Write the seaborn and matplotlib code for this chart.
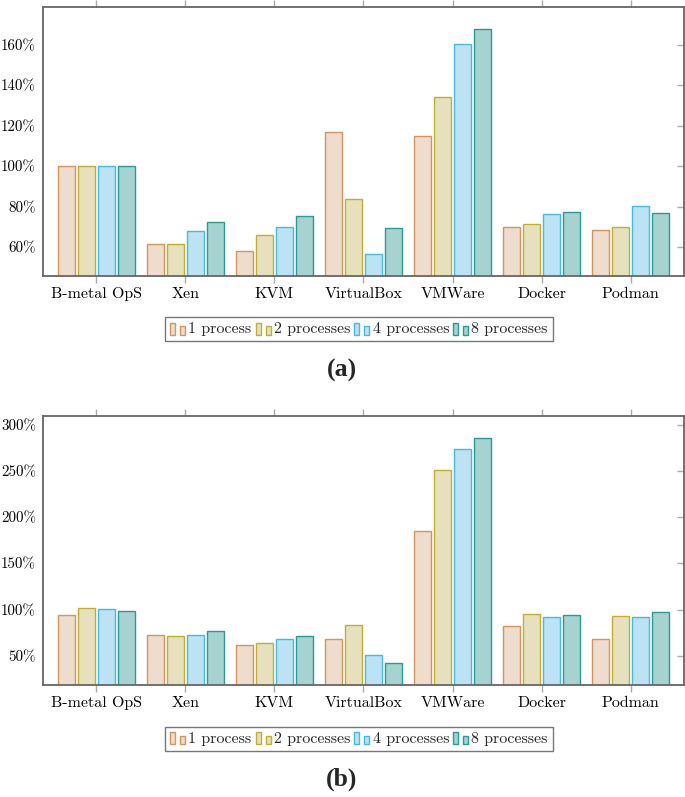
import pandas as pd
import matplotlib
matplotlib.use('Agg')
import matplotlib.pyplot as plt
import seaborn as sns
from matplotlib.patches import Rectangle
from matplotlib.legend_handler import HandlerBase

# Data
platforms = ['B-metal OpS', 'Xen', 'KVM', 'VirtualBox', 'VMWare', 'Docker', 'Podman']
series = ['1 process', '2 processes', '4 processes', '8 processes']

vals_a_1 = [100, 61.6, 57.9, 117.1, 115.0, 69.8, 68.3]
vals_a_2 = [100, 61.3, 66.1, 83.8, 134.4, 71.4, 70.0]
vals_a_4 = [100, 68.1, 69.9, 56.7, 160.3, 76.5, 80.1]
vals_a_8 = [100, 72.2, 75.2, 69.3, 167.8, 77.5, 77.0]

vals_b_1 = [93.8, 72.8, 61.6, 67.8, 185.3, 82.5, 68.1]
vals_b_2 = [101.4, 71.7, 64.1, 83.3, 251.1, 95.2, 93.1]
vals_b_4 = [100.6, 72.8, 68.1, 51.1, 274.2, 91.6, 91.6]
vals_b_8 = [98.5, 76.4, 71.7, 42.4, 285.8, 94.5, 97.1]

yticks_a = [60, 80, 100, 120, 140, 160]
yticks_b = [50, 100, 150, 200, 250, 300]

fills = ['#eedccc', '#e6e1bc', '#bce2f3', '#a6d2d0']
edges = ['#d4945c', '#bfae30', '#40bce6', '#2a9a96']

sns.set_style('white')
plt.rcParams['font.family'] = ['cmr10', 'DejaVu Serif']
plt.rcParams['axes.formatter.use_mathtext'] = True


def long_form(cols):
    rows = []
    for s, vals in zip(series, cols):
        for p, v in zip(platforms, vals):
            rows.append({'platform': p, 'series': s, 'value': v})
    return pd.DataFrame(rows)


class BarKey:
    def __init__(self, fc, ec):
        self.fc = fc
        self.ec = ec


class TwoBarHandler(HandlerBase):
    def create_artists(self, legend, orig_handle, xdescent, ydescent,
                       width, height, fontsize, trans):
        x0 = -xdescent
        y0 = -ydescent - 1
        r1 = Rectangle((x0, y0), 3.6, 8.5, facecolor=orig_handle.fc,
                       edgecolor=orig_handle.ec, lw=1.0, transform=trans)
        r2 = Rectangle((x0 + 7.2, y0), 3.6, 6.0, facecolor=orig_handle.fc,
                       edgecolor=orig_handle.ec, lw=1.0, transform=trans)
        return [r1, r2]


fig = plt.figure(figsize=(6.85, 7.97), dpi=100)
ax_a = fig.add_axes([0.0628, 0.6537, 0.9357, 0.3375])
ax_b = fig.add_axes([0.0628, 0.1405, 0.9357, 0.3379])

panels = [
    (ax_a, [vals_a_1, vals_a_2, vals_a_4, vals_a_8], (45.6, 178.8), yticks_a, 0.587, '(a)', 0.535),
    (ax_b, [vals_b_1, vals_b_2, vals_b_4, vals_b_8], (18.2, 310), yticks_b, 0.073, '(b)', 0.022),
]

for ax, cols, ylim, yt, leg_y, lab, lab_y in panels:
    df = long_form(cols)
    sns.barplot(data=df, x='platform', y='value', hue='series', ax=ax,
                palette=fills, width=0.89, gap=0.15, legend=False,
                linewidth=1.0, saturation=1)
    for cont, ec in zip(ax.containers, edges):
        for bar in cont:
            bar.set_edgecolor(ec)
    ax.set_xlim(-0.6, 6.6)
    ax.set_ylim(*ylim)
    ax.set_yticks(yt)
    ax.set_yticklabels([f'{t}%' for t in yt])
    ax.set_xlabel('')
    ax.set_ylabel('')
    ax.tick_params(axis='x', labelsize=11.5, colors='#aaaaaa', labelcolor='black',
                   length=5, width=1, direction='out', pad=3)
    ax.tick_params(axis='y', labelsize=10.8, colors='#aaaaaa', labelcolor='black',
                   length=4, width=1, direction='out', pad=1)
    ax.xaxis.set_ticks_position('both')
    for sp in ax.spines.values():
        sp.set_color('#666666')
        sp.set_linewidth(1.3)
    sec = ax.secondary_yaxis('right')
    sec.set_yticks(yt)
    sec.tick_params(direction='in', length=5, width=1, colors='#aaaaaa', labelright=False)
    sec.spines['right'].set_visible(False)

    handles = [BarKey(f, e) for f, e in zip(fills, edges)]
    fig.legend(handles, series, handler_map={BarKey: TwoBarHandler()},
               loc='center', bbox_to_anchor=(0.524, leg_y), ncol=4,
               fontsize=11.5, frameon=True, fancybox=False, edgecolor='#555555',
               handlelength=0.9, handleheight=0.7, handletextpad=0.25,
               columnspacing=0.25, borderpad=0.3, borderaxespad=0)
    fig.text(0.499, lab_y, lab, ha='center', va='center', fontsize=18.5,
             fontweight='bold', family=['Liberation Serif', 'DejaVu Serif'])

fig.savefig('out.png', dpi=100)
